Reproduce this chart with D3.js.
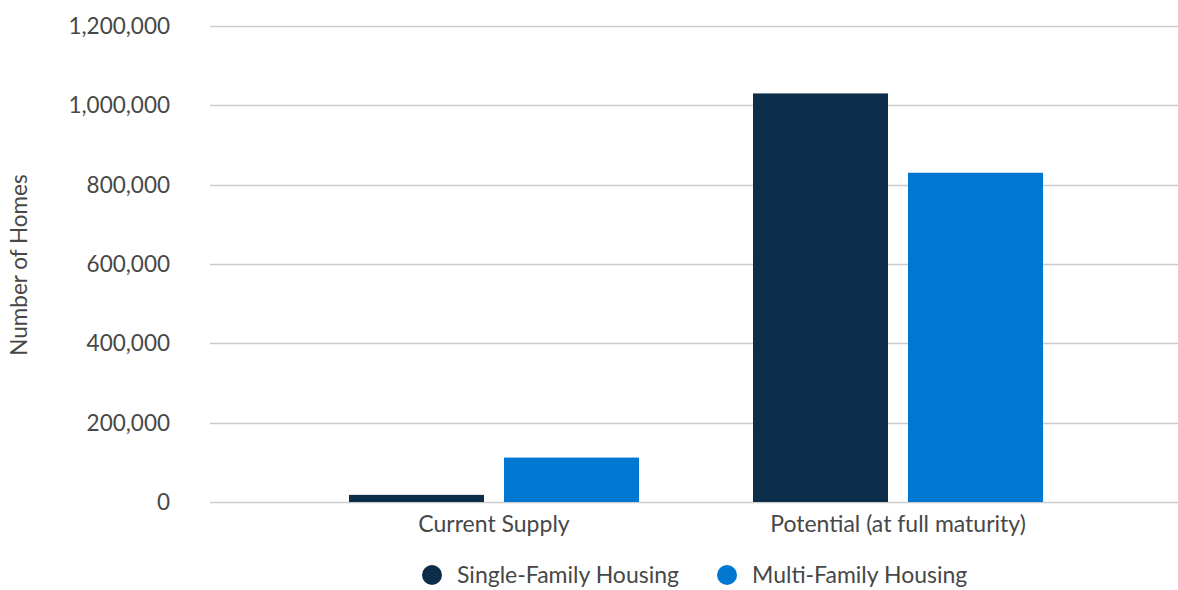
<!DOCTYPE html>
<html>
<head>
<meta charset="utf-8">
<script src="https://cdn.jsdelivr.net/npm/d3@7"></script>
<style>
  body { margin: 0; background: #fff; }
  text { font-family: Lato, "Open Sans", sans-serif; fill: #474747; }
</style>
</head>
<body>
<div id="chart"></div>
<script>
// data
let categories = ["Current Supply", "Potential (at full maturity)"];
let seriesNames = ["Single-Family Housing", "Multi-Family Housing"];
let singleFamily = [18000, 1030000];
let multiFamily = [112000, 830000];
let yTicks = [0, 200000, 400000, 600000, 800000, 1000000, 1200000];
let colors = ["#0d2e4b", "#0078d2"];

let width = 1178, height = 590;
let svg = d3.select("#chart").append("svg")
    .attr("width", width)
    .attr("height", height);

let y = d3.scaleLinear().domain([0, 1200000]).range([502, 26]);
let x0 = d3.scaleBand().domain(categories).range([292, 1100]);
let x1 = d3.scaleBand().domain(seriesNames).range([57, 347]).paddingInner(20 / 155);

// gridlines
svg.append("g")
    .selectAll("line")
    .data(yTicks).enter()
    .append("line")
    .attr("x1", 210)
    .attr("x2", width)
    .attr("y1", d => Math.round(y(d)) + 0.5)
    .attr("y2", d => Math.round(y(d)) + 0.5)
    .attr("stroke", "#cccccc")
    .attr("stroke-width", 1.5);

// y tick labels
let fmt = d3.format(",");
svg.append("g")
    .selectAll("text")
    .data(yTicks).enter()
    .append("text")
    .attr("x", 170)
    .attr("y", d => y(d))
    .attr("dy", "0.35em")
    .attr("text-anchor", "end")
    .style("font-size", "22.5px")
    .text(d => fmt(d));

// y axis title
svg.append("text")
    .attr("transform", "translate(27,265) rotate(-90)")
    .attr("text-anchor", "middle")
    .style("font-size", "22.5px")
    .text("Number of Homes");

// bars
let rows = categories.map((c, i) => ({cat: c, values: [singleFamily[i], multiFamily[i]]}));
let groups = svg.selectAll(".grp")
    .data(rows).enter()
    .append("g")
    .attr("class", "grp")
    .attr("transform", d => "translate(" + x0(d.cat) + ",0)");

groups.selectAll("rect")
    .data(d => d.values.map((v, j) => ({name: seriesNames[j], value: v, j: j})))
    .enter()
    .append("rect")
    .attr("x", d => x1(d.name))
    .attr("width", x1.bandwidth())
    .attr("y", d => y(d.value))
    .attr("height", d => y(0) - y(d.value))
    .style("fill", d => colors[d.j]);

// x labels
svg.append("g")
    .selectAll("text")
    .data(categories).enter()
    .append("text")
    .attr("x", d => x0(d) + x0.bandwidth() / 2)
    .attr("y", 532)
    .attr("text-anchor", "middle")
    .style("font-size", "23px")
    .text(d => d);

// legend (nudged up a little so the text is not clipped)
let legendX = [432, 727];
let legend = svg.selectAll(".leg")
    .data(seriesNames).enter()
    .append("g")
    .attr("class", "leg")
    .attr("transform", (d, i) => "translate(" + legendX[i] + ",575)");
legend.append("circle")
    .attr("r", 10)
    .style("fill", (d, i) => colors[i]);
legend.append("text")
    .attr("x", 25)
    .attr("dy", "0.35em")
    .style("font-size", "23px")
    .text(d => d);
</script>
</body>
</html>
